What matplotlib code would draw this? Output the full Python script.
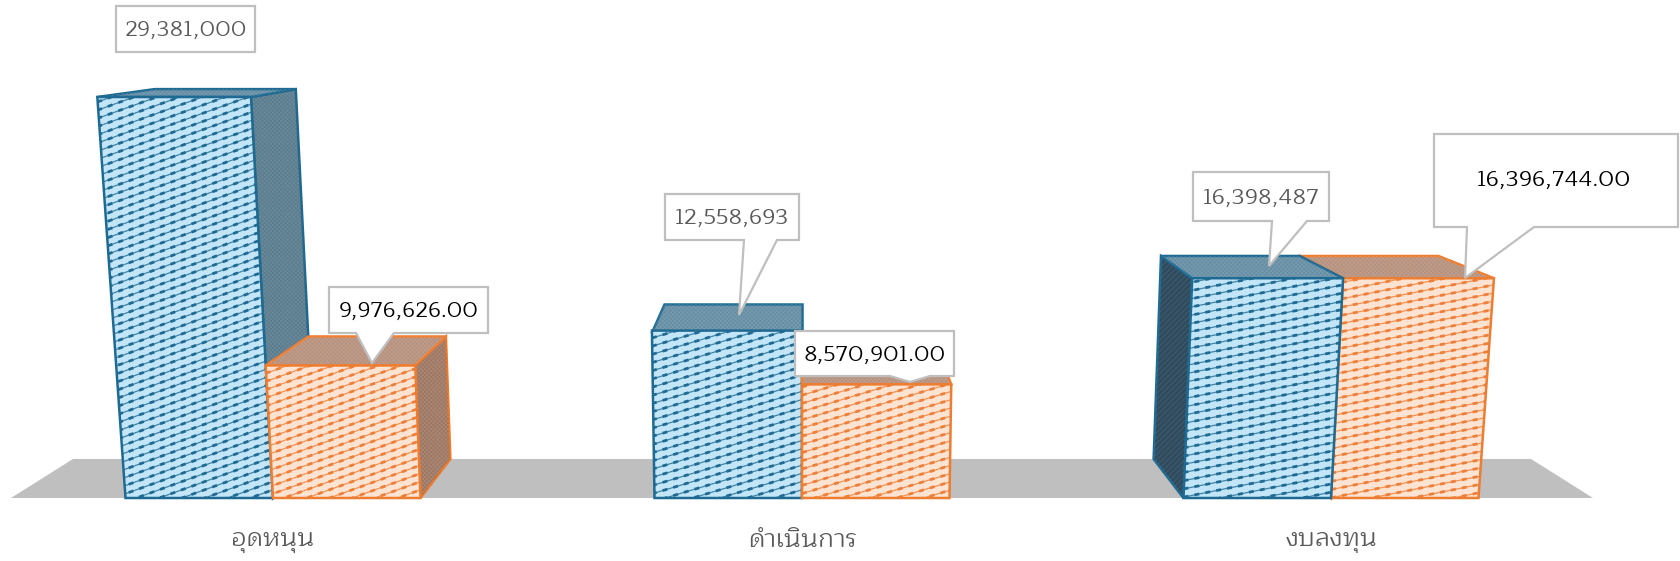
import matplotlib
matplotlib.use('Agg')
import matplotlib.pyplot as plt
from matplotlib.patches import Polygon
from matplotlib.collections import LineCollection
import numpy as np

categories = ['อุดหนุน', 'ดำเนินการ', 'งบลงทุน']
series_a = [29381000, 12558693, 16398487]
series_b = [9976626.00, 8570901.00, 16396744.00]
labels_a = ['29,381,000', '12,558,693', '16,398,487']
labels_b = ['9,976,626.00', '8,570,901.00', '16,396,744.00']

# perspective settings (all found by measuring the picture)
ORIGIN_X, ORIGIN_Y = 802, 498
VERT_VP = 9624
DEPTH_VP = 498
VALUE_K = 0.04 / 29381000
DEPTH_K = 0.085
GROUP_STEP = 529
BAR_W = 147.5
FLOOR_X = 791
STRIPE_SLOPES = [0.36, 0.3, 0.2]

colors = {
    'a': dict(edge='#1f6a92', pale='#c2e6f8', line='#1f6a92', side='#6a8b9b', top='#648da3', dark='#2f4b5d', mesh='#3f5f70'),
    'b': dict(edge='#ed7d31', pale='#fde3d1', line='#ee7f38', side='#ab8774', top='#b6907c', dark='#ab8774', mesh='#7d5a48'),
}


def project(x, v, d):
    # x along the floor, v bar value, d depth 0..1
    av = v * VALUE_K
    bd = d * DEPTH_K
    w = 1 - av + bd
    return x / w, (av * VERT_VP + bd * DEPTH_VP) / w


def px(x, y):
    return x - ORIGIN_X, ORIGIN_Y - y


def face(points):
    return [project(*p) for p in points]


def stripes(ax, pts, col, slope):
    # shallow diagonal stripes clipped to the face
    clip = Polygon(pts, closed=True, transform=ax.transData, fc='none', ec='none')
    ax.add_patch(clip)
    xs = [p[0] for p in pts]
    ys = [p[1] for p in pts]
    x0, x1 = min(xs), max(xs)
    y0 = min(ys) - slope * (x1 - x0)
    segs = []
    for c in np.arange(y0, max(ys), 8.2):
        segs.append([(x0, c), (x1, c + slope * (x1 - x0))])
    thin = LineCollection(segs, colors=col, linewidths=0.9, alpha=0.8, zorder=ax.zo)
    thin.set_clip_path(clip)
    ax.add_collection(thin)
    dash = LineCollection(segs, colors=col, linewidths=2.0, linestyles=[(0, (1.8, 2.2))], zorder=ax.zo)
    dash.set_clip_path(clip)
    ax.add_collection(dash)


def draw_bar(ax, x0, x1, value, c, slope):
    ax.zo += 1
    z = ax.zo
    lw = 1.8
    # sides that the camera can see
    if x1 < 0:
        side = face([(x1, 0, 0), (x1, value, 0), (x1, value, 1), (x1, 0, 1)])
        ax.add_patch(Polygon(side, closed=True, fc=c['side'], ec=c['edge'], lw=lw, zorder=z))
        ax.add_patch(Polygon(side, closed=True, fc='none', ec=c['mesh'], lw=0, hatch='xxxxxxxx', alpha=0.35, zorder=z))
    if x0 > 0:
        side = face([(x0, 0, 0), (x0, value, 0), (x0, value, 1), (x0, 0, 1)])
        ax.add_patch(Polygon(side, closed=True, fc=c['dark'], ec=c['edge'], lw=lw, zorder=z))
        ax.add_patch(Polygon(side, closed=True, fc='none', ec='#557486', lw=0, hatch='//////', alpha=0.5, zorder=z))
    top = face([(x0, value, 0), (x1, value, 0), (x1, value, 1), (x0, value, 1)])
    ax.add_patch(Polygon(top, closed=True, fc=c['top'], ec=c['edge'], lw=lw, zorder=z))
    ax.add_patch(Polygon(top, closed=True, fc='none', ec='#ffffff', lw=0, hatch='xxxxxxxx', alpha=0.12, zorder=z))
    front = face([(x0, 0, 0), (x1, 0, 0), (x1, value, 0), (x0, value, 0)])
    ax.add_patch(Polygon(front, closed=True, fc=c['pale'], ec='none', zorder=z))
    stripes(ax, front, c['line'], slope)
    ax.add_patch(Polygon(front, closed=True, fc='none', ec=c['edge'], lw=lw, zorder=z))


def callout(ax, box, tail, text, color, size, text_xy=None):
    x0, y0, x1, y1 = box
    pts = [(x0, y0), (x1, y0), (x1, y1)]
    if tail:
        pts += [tail[2], tail[1], tail[0]]
    pts += [(x0, y1)]
    ax.add_patch(Polygon([px(*p) for p in pts], closed=True, fc='white', ec='#bfbfbf', lw=1.6, zorder=100))
    tx, ty = text_xy if text_xy else ((x0 + x1) / 2, (y0 + y1) / 2)
    ax.text(*px(tx, ty + 2), text, color=color, fontsize=size, ha='center', va='center', zorder=101)


plt.rcParams['hatch.linewidth'] = 0.6
plt.rcParams['font.family'] = ['Maitree', 'DejaVu Sans']

fig = plt.figure(figsize=(16.8, 5.61), dpi=100)
ax = fig.add_axes([0, 0, 1, 1])
ax.set_xlim(-ORIGIN_X, 1680 - ORIGIN_X)
ax.set_ylim(ORIGIN_Y - 561, ORIGIN_Y)
ax.axis('off')
ax.zo = 5

floor = face([(-FLOOR_X, 0, 0), (FLOOR_X, 0, 0), (FLOOR_X, 0, 1), (-FLOOR_X, 0, 1)])
ax.add_patch(Polygon(floor, closed=True, fc='#bfbfbf', ec='none', zorder=1))

for i in range(len(categories)):
    centre = (i - 1) * GROUP_STEP
    bars = [(centre - BAR_W, centre, series_a[i], colors['a']),
            (centre, centre + BAR_W, series_b[i], colors['b'])]
    # outer bar goes first so the inner one sits over it
    if centre > 0:
        bars = bars[::-1]
    for x0, x1, value, c in bars:
        draw_bar(ax, x0, x1, value, c, STRIPE_SLOPES[i])
    ax.text(centre, px(0, 541)[1], categories[i], color='#595959', fontsize=18.5,
            ha='center', va='center', zorder=101)

callout(ax, (116, 6, 255, 52), None, labels_a[0], '#595959', 16)
callout(ax, (329, 287, 488, 333), [(356, 333), (372, 363), (394, 333)], labels_b[0], 'black', 16)
callout(ax, (665, 194, 799, 240), [(744, 240), (739, 315), (777, 240)], labels_a[1], '#595959', 16.2)
callout(ax, (795, 331, 954, 376), [(890, 376), (910, 382), (930, 376)], labels_b[1], 'black', 16)
callout(ax, (1193, 172, 1329, 221), [(1272, 221), (1269, 266), (1307, 221)], labels_a[2], '#595959', 16.2)
callout(ax, (1434, 134, 1678, 227), [(1467, 227), (1465, 278), (1534, 227)], labels_b[2], 'black', 16.3, (1554, 179))

fig.savefig('out.png', dpi=100)
